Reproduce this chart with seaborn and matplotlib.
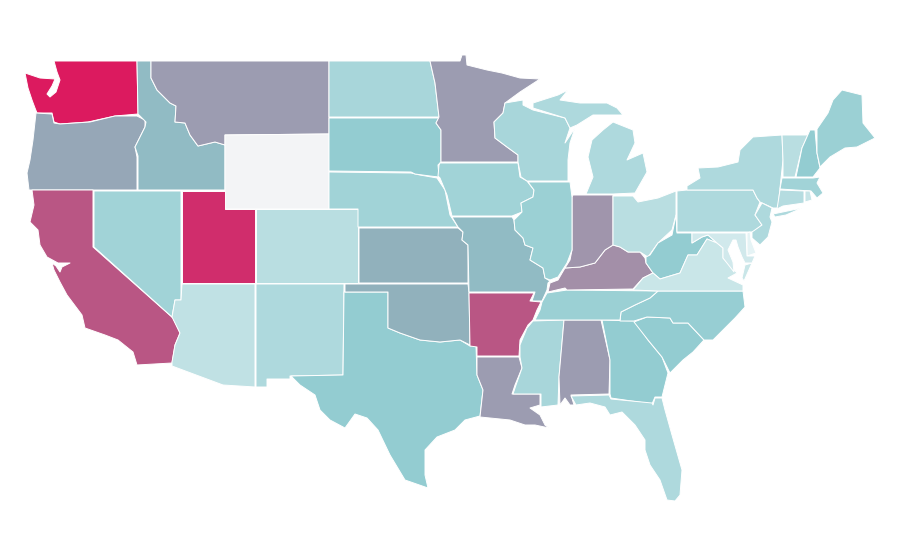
import numpy as np
import matplotlib
matplotlib.use("Agg")
import matplotlib.pyplot as plt
from matplotlib.collections import PolyCollection
import seaborn as sns

# --- data: share per state (Wyoming has no value) -------------------------
states = ["WA","OR","CA","NV","ID","MT","WY","UT","CO","AZ","NM","TX","OK","KS","NE","SD","ND",
          "MN","IA","MO","AR","LA","MS","AL","GA","FL","SC","NC","TN","KY","IN","IL","WI","MI",
          "OH","WV","VA","PA","NY","VT","NH","ME","MA","CT","RI","NJ","DE","MD"]
values = [1.00,0.44,0.75,0.21,0.33,0.50,np.nan,0.91,0.14,0.12,0.17,0.25,0.38,0.38,0.21,0.25,0.19,
          0.50,0.21,0.33,0.75,0.50,0.19,0.50,0.25,0.17,0.25,0.24,0.23,0.575,0.54,0.23,0.19,0.17,
          0.14,0.25,0.09,0.17,0.17,0.14,0.25,0.23,0.21,0.15,0.10,0.17,0.01,0.07]
ramp_colors = ["#e8f4f6", "#bde0e3", "#93ccd1", "#90b2bd", "#9c9cb1",
               "#a887a3", "#b95784", "#cc3471", "#dc1a5f"]
missing_color = "#f3f4f6"

# --- simplified base map outlines (projected map units) --------------------
outlines = {
 "WA": [[(54,61),(137,61),(138,114),(115,116),(88,122),(60,124),(54,122),(52,113),(37,113),(35,108),(32,100),(28,88),(25,73),(40,78),(55,79),(52,86),(47,94),(50,97),(56,92),(60,80),(57,72)]],
 "OR": [[(36,113),(52,114),(54,123),(60,124),(90,122),(115,116),(137,116),(145,120),(145,127),(135,147),(137,157),(137,190),(29,190),(27,173),(30,160),(33,140)]],
 "CA": [[(32,190),(93,190),(93,247),(173,318),(180,333),(175,345),(172,363),(137,365),(133,352),(118,340),(105,335),(85,328),(82,315),(67,295),(60,282),(54,270),(52,263),(56,266),(60,272),(62,267),(70,263),(58,263),(47,257),(40,245),(38,230),(30,222),(34,205)]],
 "NV": [[(94,191),(181,191),(181,300),(175,300),(172,317),(94,247)]],
 "ID": [[(137,61),(151,61),(151,78),(157,90),(170,103),(176,106),(175,122),(185,123),(190,135),(198,146),(215,142),(225,145),(225,190),(138,190),(138,156),(135,147),(145,127),(146,122),(138,114)]],
 "MT": [[(151,61),(329,61),(329,134),(225,135),(225,145),(215,142),(198,146),(190,135),(185,123),(175,122),(176,106),(170,103),(157,90),(151,78)]],
 "WY": [[(225,135),(329,134),(329,209),(225,209)]],
 "UT": [[(182,191),(225,191),(225,209),(255,209),(255,283),(182,283)]],
 "CO": [[(256,209),(358,209),(358,283),(256,283)]],
 "AZ": [[(182,284),(255,284),(255,387),(223,385),(172,366),(172,362),(175,345),(180,333),(172,317),(175,300),(181,300)]],
 "NM": [[(256,284),(344,284),(343,375),(290,376),(290,379),(267,379),(267,387),(256,387)]],
 "TX": [[(344,292),(388,292),(388,328),(400,333),(420,340),(440,342),(460,340),(470,346),(476,346),(477,375),(483,390),(480,416),(465,420),(455,430),(437,437),(425,450),(425,475),(428,488),(405,480),(390,455),(378,430),(367,418),(355,414),(345,428),(330,420),(320,410),(315,395),(300,385),(291,376),(343,375)]],
 "OK": [[(345,284),(468,284),(469,292),(470,345),(460,340),(440,342),(420,340),(400,333),(388,328),(388,292),(345,292)]],
 "KS": [[(359,228),(458,228),(463,232),(462,240),(468,245),(468,283),(359,283)]],
 "NE": [[(329,172),(411,173),(420,175),(437,178),(445,190),(450,215),(458,227),(358,227),(358,209),(329,209)]],
 "SD": [[(329,118),(439,118),(436,123),(441,130),(441,162),(438,165),(439,177),(430,176),(415,174),(411,172),(329,171)]],
 "ND": [[(329,61),(430,61),(435,83),(439,117),(329,117)]],
 "MN": [[(430,61),(460,61),(462,55),(466,55),(467,65),(487,70),(502,73),(520,78),(540,79),(520,92),(505,103),(503,113),(494,122),(495,138),(507,147),(518,155),(518,162),(441,162),(441,130),(436,123),(439,117),(435,83)]],
 "IA": [[(440,163),(518,163),(520,177),(527,181),(534,190),(533,197),(521,203),(522,212),(512,216),(452,216),(447,195),(440,178),(438,176),(439,165)]],
 "MO": [[(452,217),(512,217),(514,220),(515,230),(523,238),(525,245),(533,248),(530,260),(543,268),(545,278),(550,281),(548,283),(547,290),(542,301),(532,301),(535,292),(469,292),(468,245),(462,240),(463,232),(458,227)]],
 "AR": [[(469,293),(534,293),(530,301),(541,302),(537,310),(533,320),(528,325),(520,340),(519,356),(477,356),(477,347),(470,346)]],
 "LA": [[(477,357),(519,357),(522,368),(515,385),(512,394),(540,394),(540,405),(530,408),(540,415),(545,425),(549,428),(535,425),(525,425),(510,420),(480,417),(483,390),(477,375)]],
 "MS": [[(533,321),(564,320),(559,377),(558,405),(541,407),(541,394),(513,394),(516,385),(522,368),(520,357),(520,345),(527,328)]],
 "AL": [[(564,320),(601,320),(610,360),(609,394),(571,395),(574,405),(570,405),(565,398),(560,405),(559,377)]],
 "GA": [[(602,320),(635,321),(648,340),(662,357),(668,373),(662,397),(655,397),(652,404),(611,398),(610,394),(610,360)]],
 "FL": [[(571,396),(609,395),(611,399),(652,403),(653,405),(655,398),(662,398),(665,410),(672,435),(682,470),(680,495),(675,501),(667,500),(660,480),(650,465),(645,450),(645,440),(635,425),(622,412),(610,415),(605,407),(590,403),(576,405)]],
 "SC": [[(634,322),(647,317),(670,318),(673,323),(688,323),(704,340),(693,352),(683,360),(670,373),(662,357),(648,340)]],
 "NC": [[(658,291),(743,291),(745,307),(735,318),(728,325),(713,340),(704,340),(688,323),(673,323),(670,318),(647,317),(634,321),(620,321),(621,312),(635,305),(650,298)]],
 "TN": [[(567,290),(658,291),(650,298),(635,305),(621,312),(620,320),(535,320),(540,310),(542,302),(547,293)]],
 "KY": [[(548,292),(550,283),(558,280),(565,268),(580,267),(595,263),(605,250),(613,245),(620,247),(628,252),(640,252),(645,258),(646,263),(653,273),(643,278),(633,289),(567,290),(565,288)]],
 "IN": [[(573,195),(613,195),(613,245),(605,250),(595,263),(580,267),(565,268),(570,260),(572,250),(572,197)]],
 "IL": [[(528,182),(570,182),(572,197),(572,250),(567,263),(558,277),(550,280),(545,278),(543,268),(530,260),(533,248),(525,245),(523,238),(515,230),(514,220),(522,212),(521,203),(533,197),(534,190)]],
 "WI": [[(505,103),(523,100),(523,105),(533,110),(565,118),(570,128),(565,143),(575,128),(570,143),(568,160),(568,181),(527,181),(521,177),(518,162),(518,155),(507,147),(495,138),(494,122),(503,113)]],
 "MI": [[(533,108),(533,103),(558,95),(568,90),(560,100),(580,103),(607,103),(617,108),(623,115),(610,115),(593,115),(577,125),(570,128),(565,118)],
        [(586,194),(593,177),(588,157),(592,140),(603,130),(613,122),(633,130),(635,143),(627,160),(643,153),(647,172),(635,193),(613,194)]],
 "OH": [[(613,196),(633,196),(638,202),(658,198),(676,191),(676,215),(672,230),(658,243),(648,257),(640,252),(628,252),(620,247),(613,245)]],
 "WV": [[(646,257),(650,255),(658,243),(672,235),(676,215),(677,233),(692,233),(692,243),(702,237),(708,235),(717,243),(707,239),(697,255),(688,255),(680,273),(660,279),(653,273),(646,263)]],
 "VA": [[(633,290),(643,278),(653,273),(660,279),(680,273),(688,255),(697,255),(707,239),(717,243),(723,248),(723,258),(737,273),(728,278),(743,285),(743,291),(658,291)],
        [(745,265),(752,263),(744,281),(742,278)]],
 "PA": [[(677,191),(687,190),(753,190),(757,198),(760,202),(755,215),(762,225),(753,232),(677,232)]],
 "NY": [[(687,190),(687,186),(700,178),(698,168),(718,167),(738,162),(740,150),(753,137),(782,135),(783,160),(780,188),(778,208),(773,208),(760,202),(757,198),(753,190)],
        [(773,214),(802,208),(786,215),(775,217)]],
 "VT": [[(782,135),(808,135),(802,148),(795,177),(783,177),(783,160)]],
 "NH": [[(810,130),(815,130),(817,153),(820,168),(813,177),(796,177),(802,148)]],
 "ME": [[(817,129),(828,113),(833,100),(842,90),(862,95),(863,123),(875,138),(857,147),(845,148),(830,157),(820,167),(817,153)]],
 "MA": [[(782,178),(813,178),(820,177),(817,183),(823,193),(817,198),(811,191),(780,189)]],
 "CT": [[(780,190),(804,191),(804,203),(783,206),(777,209)]],
 "RI": [[(805,191),(810,191),(812,200),(805,202)]],
 "NJ": [[(762,203),(772,208),(770,217),(772,222),(768,237),(760,245),(752,238),(752,232),(762,225),(755,215)]],
 "DE": [[(747,233),(750,232),(751,240),(756,253),(747,256)]],
 "MD": [[(692,233),(746,233),(747,256),(755,256),(752,263),(745,263),(742,257),(738,247),(736,240),(733,240),(728,250),(733,262),(734,272),(723,258),(723,248),(717,243),(708,235),(702,237),(692,243)]],
}

sns.set_theme(style="white")
cmap = sns.blend_palette(ramp_colors, n_colors=256, as_cmap=True)
cmap.set_bad(missing_color)

polys, poly_values = [], []
for state, value in zip(states, values):
    for part in outlines[state]:
        polys.append(part)
        poly_values.append(value)

fig = plt.figure(figsize=(9, 5.6), dpi=100, facecolor="white")
ax = fig.add_axes([0, 0, 1, 1])
coll = PolyCollection(polys, array=np.ma.masked_invalid(poly_values), cmap=cmap,
                      edgecolors="white", linewidths=0.7)
coll.set_clim(0, 1)
ax.add_collection(coll)
ax.set_xlim(0, 900)
ax.set_ylim(560, 0)
ax.set_aspect("equal")
ax.axis("off")
fig.savefig("out.png", dpi=100, facecolor="white")
